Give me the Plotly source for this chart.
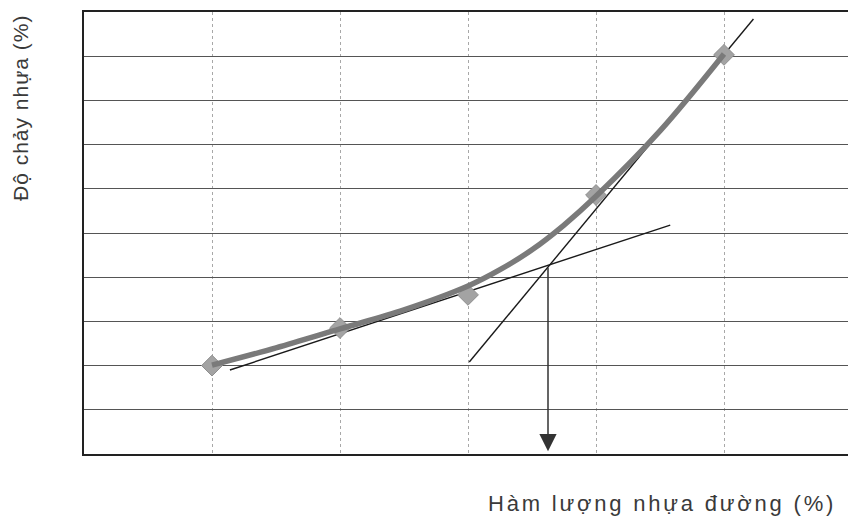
import plotly.graph_objects as go

# Data
asphalt_content = [1, 2, 3, 4, 5]
binder_drainage = [2.0, 2.85, 3.6, 5.86, 9.03]      # measured points (diamonds)

# smooth fitted curve
trend_x = [1, 1.5, 2, 2.5, 3, 3.25, 3.5, 3.75, 4, 4.5, 5]
trend_y = [2.01, 2.40, 2.83, 3.26, 3.80, 4.17, 4.62, 5.18, 5.83, 7.31, 9.05]

tangent_low_x = [1.14, 4.58]
tangent_low_y = [1.90, 5.18]
tangent_high_x = [3.01, 5.23]
tangent_high_y = [2.08, 9.84]

optimum_x = 3.625
optimum_y = 4.25

x_title = "Hàm lượng nhựa đường (%)"
y_title = "Độ chảy nhựa (%)"

W, H = 848, 517
L, T, B = 84, 12, 454
R = 848

fig = go.Figure()

fig.add_trace(go.Scatter(
    x=tangent_low_x, y=tangent_low_y, mode="lines",
    line=dict(color="#1a1a1a", width=1.4), hoverinfo="skip", showlegend=False))
fig.add_trace(go.Scatter(
    x=tangent_high_x, y=tangent_high_y, mode="lines",
    line=dict(color="#1a1a1a", width=1.4), hoverinfo="skip", showlegend=False))

fig.add_trace(go.Scatter(
    x=asphalt_content, y=binder_drainage, mode="markers",
    marker=dict(symbol="diamond", size=16, color="#a3a3a3",
                line=dict(color="#8f8f8f", width=1)),
    showlegend=False))

fig.add_trace(go.Scatter(
    x=trend_x, y=trend_y, mode="lines",
    line=dict(color="#7a7a7a", width=5.5, shape="spline", smoothing=1.0),
    showlegend=False))

fig.add_annotation(
    x=optimum_x, y=0.06, ax=optimum_x, ay=optimum_y,
    xref="x", yref="y", axref="x", ayref="y",
    showarrow=True, arrowhead=2, arrowsize=2.3, arrowwidth=1.5,
    arrowcolor="#333333", text="")


def px_to_paper(px, py):
    return (px - L) / (R - L), (B - py) / (B - T)


xt, yt = px_to_paper(838, 503)
fig.add_annotation(
    x=xt, y=yt, xref="paper", yref="paper",
    text='<span style="letter-spacing:2.8px">' + x_title + "</span>",
    showarrow=False,
    font=dict(family="Liberation Sans, Arial", size=22, color="#3a3a3a"),
    xanchor="right", yanchor="middle")
xt, yt = px_to_paper(20, 108)
fig.add_annotation(
    x=xt, y=yt, xref="paper", yref="paper",
    text='<span style="letter-spacing:1px">' + y_title + "</span>",
    showarrow=False, textangle=-90,
    font=dict(family="Liberation Sans, Arial", size=21, color="#3a3a3a"),
    xanchor="center", yanchor="middle")

fig.update_layout(
    width=W, height=H,
    margin=dict(l=L, r=W - R, t=T, b=H - B, autoexpand=False),
    paper_bgcolor="white", plot_bgcolor="white",
    font=dict(family="Liberation Sans, Arial"),
)
fig.update_xaxes(
    range=[0, (R - L) / 128], showticklabels=False, ticks="",
    tickmode="array", tickvals=[1, 2, 3, 4, 5],
    showgrid=True, gridcolor="#a8a8a8", griddash="dot", gridwidth=1,
    showline=True, linecolor="#222222", linewidth=2, mirror=True,
    zeroline=False, fixedrange=True)
fig.update_yaxes(
    range=[0, 10], showticklabels=False, ticks="",
    tickmode="array", tickvals=[1, 2, 3, 4, 5, 6, 7, 8, 9],
    showgrid=True, gridcolor="#555555", gridwidth=1,
    showline=True, linecolor="#222222", linewidth=2,
    zeroline=False, fixedrange=True)

fig.write_html(
    "out.html",
    config={"displayModeBar": False},
    post_script="document.body.style.margin='0';document.body.style.overflow='hidden';",
)
